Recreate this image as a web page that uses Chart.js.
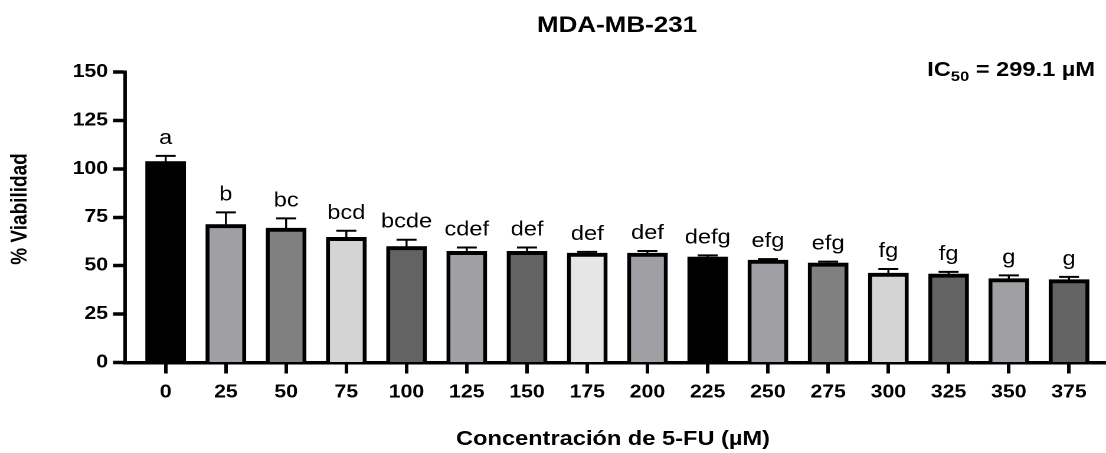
<!DOCTYPE html>
<html><head><meta charset="utf-8">
<script src="https://cdn.jsdelivr.net/npm/chart.js@4"></script>
<style>
html,body{margin:0;padding:0;background:#fff;overflow:hidden;width:1106px;height:453px;}
#wrap{position:absolute;left:0;top:0;width:937px;height:453px;transform:scaleX(1.180363);transform-origin:0 0;}
</style></head><body>
<div id="wrap"><canvas id="c"></canvas></div>
<script>
// ---- data ----
const categories = ['0','25','50','75','100','125','150','175','200','225','250','275','300','325','350','375'];
const viability = [103.8, 71.3, 69.4, 64.6, 59.9, 57.4, 57.4, 56.5, 56.5, 54.5, 52.9, 51.4, 46.2, 45.7, 43.3, 42.8];
const errorUp = [2.9, 6.2, 5.0, 3.4, 3.5, 2.0, 2.0, 0.6, 1.1, 0.8, 0.5, 0.7, 2.1, 1.1, 1.7, 1.4];
const groupLetters = ['a','b','bc','bcd','bcde','cdef','def','def','def','defg','efg','efg','fg','fg','g','g'];
const barColors = ['#000000','#a0a0a4','#808080','#d4d4d4','#636363','#a0a0a4','#636363','#e6e6e6','#a0a0a4','#000000','#a0a0a4','#808080','#d4d4d4','#636363','#a0a0a4','#636363'];
const yTickValues = [0, 25, 50, 75, 100, 125, 150];
const titleText = 'MDA-MB-231';
const xTitle = 'Concentración de 5-FU (µM)';
const yTitle = '% Viabilidad';
const icLabel = ['IC', '50', ' = 299.1 µM'];

// ---- layout helpers ----
const S = 1106 / 937;            // horizontal stretch applied by CSS
const px = v => v / S;           // final horizontal px -> internal px
const FAM = "'Liberation Sans', Arial, Helvetica, sans-serif";

const overlay = {
  id: 'overlay',
  afterDatasetsDraw(chart) {
    const ctx = chart.ctx, xs = chart.scales.x, ys = chart.scales.y;
    ctx.save();
    ctx.strokeStyle = '#000';
    viability.forEach((v, i) => {
      const x = xs.getPixelForValue(i);
      const yb = ys.getPixelForValue(v);
      const yt = ys.getPixelForValue(v + errorUp[i]);
      ctx.lineWidth = px(2);
      ctx.beginPath(); ctx.moveTo(x, yb); ctx.lineTo(x, yt); ctx.stroke();
      ctx.lineWidth = 2;
      ctx.beginPath(); ctx.moveTo(x - px(10), yt); ctx.lineTo(x + px(10), yt); ctx.stroke();
    });
    ctx.restore();
  },
  afterDraw(chart) {
    const ctx = chart.ctx, xs = chart.scales.x, ys = chart.scales.y;
    ctx.save();
    ctx.fillStyle = '#000';
    // group letters
    ctx.font = `20px ${FAM}`;
    ctx.textAlign = 'center'; ctx.textBaseline = 'alphabetic';
    groupLetters.forEach((t, i) => {
      const x = xs.getPixelForValue(i);
      const yt = ys.getPixelForValue(viability[i] + errorUp[i]);
      ctx.fillText(t, x, yt - 12);
    });
    // title
    ctx.font = `bold 22px ${FAM}`;
    ctx.fillText(titleText, px(617), 32);
    // x title
    ctx.font = `bold 20px ${FAM}`;
    ctx.fillText(xTitle, px(613), 445);
    // y title
    ctx.save();
    ctx.translate(px(20.5), 209);
    ctx.rotate(-Math.PI / 2);
    ctx.font = `bold 19px ${FAM}`;
    ctx.textBaseline = 'middle';
    ctx.fillText(yTitle, 0, 0);
    ctx.restore();
    // IC50
    ctx.textAlign = 'left';
    const big = `bold 20px ${FAM}`, small = `bold 14px ${FAM}`;
    ctx.font = big; const w1 = ctx.measureText(icLabel[0]).width, w3 = ctx.measureText(icLabel[2]).width;
    ctx.font = small; const w2 = ctx.measureText(icLabel[1]).width;
    let x0 = px(1095) - (w1 + w2 + w3);
    ctx.font = big; ctx.fillText(icLabel[0], x0, 76);
    ctx.font = small; ctx.fillText(icLabel[1], x0 + w1, 81);
    ctx.font = big; ctx.fillText(icLabel[2], x0 + w1 + w2, 76);
    ctx.restore();
  }
};

new Chart(document.getElementById('c'), {
  type: 'bar',
  data: {
    datasets: [{
      data: viability.map((v, i) => ({ x: i, y: v })),
      backgroundColor: barColors,
      borderColor: '#000',
      borderWidth: { left: px(4), right: px(4), top: 4, bottom: 0 },
      borderSkipped: false,
      barThickness: px(40)
    }]
  },
  options: {
    responsive: true, maintainAspectRatio: false, animation: false, devicePixelRatio: 2,
    layout: { padding: { top: 72, left: 0, right: 0, bottom: 0 } },
    plugins: { legend: { display: false }, tooltip: { enabled: false }, title: { display: false } },
    scales: {
      x: {
        type: 'linear', min: -0.675, max: 15.614, offset: false,
        afterFit(s) { s.height = 90.5; },
        afterBuildTicks(s) { s.ticks = categories.map((c, i) => ({ value: i })); },
        grid: { display: true, offset: false, drawOnChartArea: false, drawTicks: true, tickLength: 11, tickWidth: px(3.5), tickColor: '#000', color: '#000' },
        border: { display: true, color: '#000', width: 3.5 },
        ticks: { callback: (v) => categories[v], color: '#000', font: { family: FAM, size: 18, weight: 'bold' }, padding: 8, maxRotation: 0, autoSkip: false }
      },
      y: {
        min: 0, max: 150,
        afterFit(s) { s.width = px(125); },
        afterBuildTicks(s) { s.ticks = yTickValues.map(v => ({ value: v })); },
        grid: { display: true, drawOnChartArea: false, drawTicks: true, tickLength: px(12), tickWidth: 3.5, tickColor: '#000', color: '#000' },
        border: { display: true, color: '#000', width: px(3.5) },
        ticks: { color: '#000', font: { family: FAM, size: 18, weight: 'bold' }, padding: px(5) }
      }
    }
  },
  plugins: [overlay]
});
</script>
</body></html>
